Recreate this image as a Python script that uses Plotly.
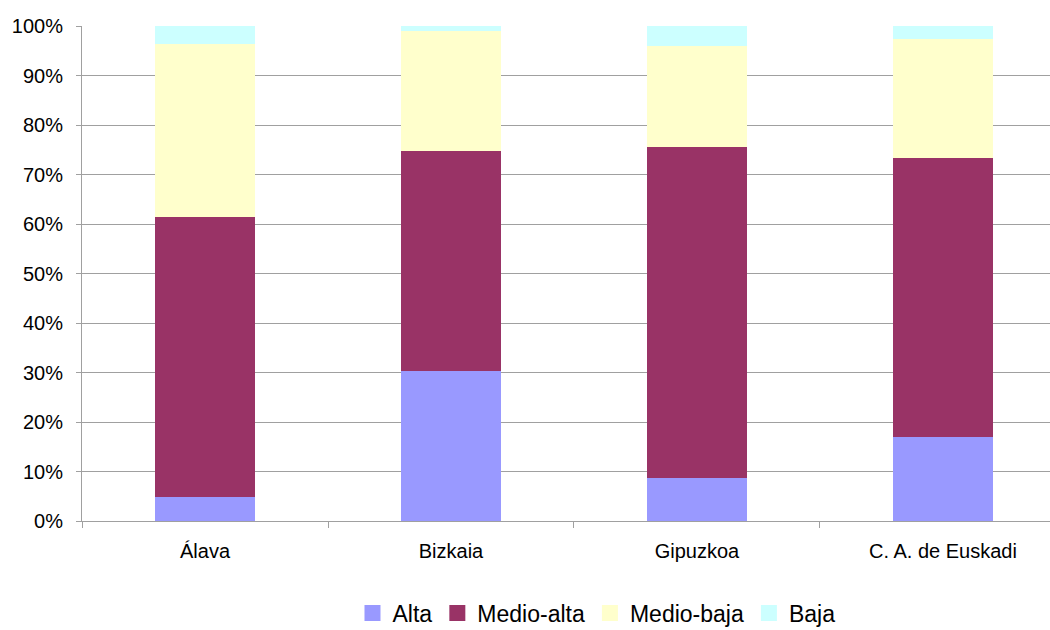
import plotly.graph_objects as go

categories = ["Álava", "Bizkaia", "Gipuzkoa", "C. A. de Euskadi"]
alta = [4.8, 30.4, 8.7, 17.0]
medio_alta = [56.7, 44.4, 66.8, 56.3]
medio_baja = [34.9, 24.2, 20.5, 24.1]
baja = [3.6, 1.0, 4.0, 2.6]

series = [
    ("Alta", alta, "#9999FF"),
    ("Medio-alta", medio_alta, "#993366"),
    ("Medio-baja", medio_baja, "#FFFFCC"),
    ("Baja", baja, "#CCFFFF"),
]

fig = go.Figure()
for name, vals, color in series:
    fig.add_trace(go.Bar(
        x=categories, y=vals, name=name,
        marker=dict(color=color, line=dict(width=0)),
        width=0.41, showlegend=False,
    ))
# legend entries with larger square swatches
for name, vals, color in series:
    fig.add_trace(go.Scatter(
        x=[None], y=[None], mode="markers", name=name,
        marker=dict(symbol="square", size=17, color=color, line=dict(width=0)),
        showlegend=True,
    ))

fig.update_layout(
    barmode="stack",
    width=1050, height=630,
    margin=dict(l=82, r=0, t=26, b=109, autoexpand=False),
    paper_bgcolor="white", plot_bgcolor="white",
    font=dict(family="Liberation Sans, Arial", size=20, color="#000"),
    legend=dict(orientation="h", x=0.5315, xanchor="center", y=-0.186, yanchor="middle",
                font=dict(size=23), itemsizing="trace", traceorder="normal",
                itemwidth=30),
    showlegend=True,
)
fig.update_xaxes(
    range=[-0.5, 3.435],
    showline=True, linecolor="#a0a0a0", linewidth=1,
    ticks="outside", tickson="boundaries", ticklen=6, tickcolor="#a0a0a0",
    showgrid=False, ticklabelstandoff=12,
    tickfont=dict(size=20),
)
fig.update_yaxes(
    range=[0, 100], dtick=10, ticksuffix="%",
    showline=True, linecolor="#a0a0a0", linewidth=1,
    ticks="outside", ticklen=5, tickcolor="#a0a0a0",
    showgrid=True, gridcolor="#a0a0a0", gridwidth=1,
    tickfont=dict(size=20), ticklabelstandoff=9,
    zeroline=False,
)

fig.write_html(
    "out.html",
    config={"displayModeBar": False},
    post_script="document.body.style.margin='0';document.body.style.overflow='hidden';",
)
